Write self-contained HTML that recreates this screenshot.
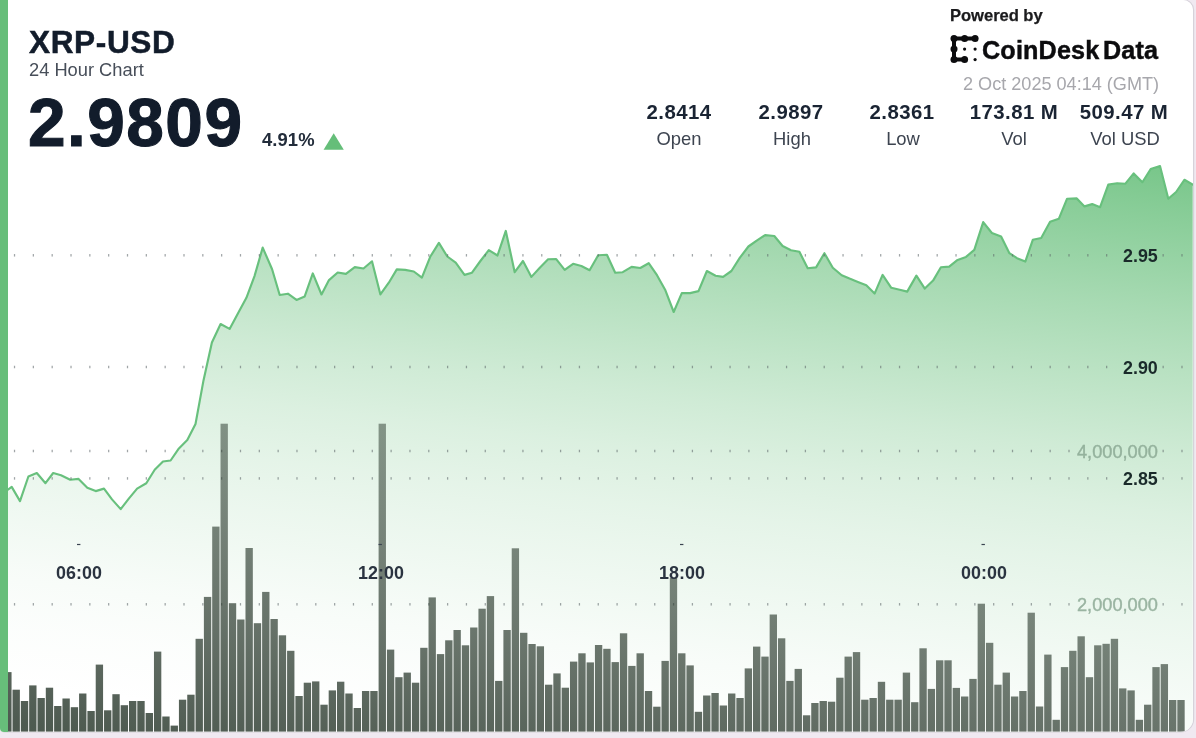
<!DOCTYPE html>
<html><head><meta charset="utf-8">
<style>
html,body{margin:0;padding:0;}
body{width:1196px;height:738px;overflow:hidden;background:#f0e9f1;font-family:"Liberation Sans",sans-serif;position:relative;}
#card{position:absolute;left:0;top:0;width:1193px;height:731.6px;background:#fff;border-radius:0 10px 13px 4px;overflow:hidden;}
#edge{position:absolute;left:0;top:0;width:1193px;height:731.6px;border-radius:0 10px 13px 4px;box-shadow:0.6px 0 0 0.6px #d6d3da;}
#gbar{position:absolute;left:0;top:0;width:7.6px;height:732px;background:#67be7a;}
.t{position:absolute;white-space:nowrap;line-height:1;color:#121c2b;will-change:transform;}
.b{font-weight:bold;}
.c{text-align:center;transform:translateX(-50%);}
svg{position:absolute;left:0;top:0;}
.g{stroke:#5c6468;stroke-opacity:.62;stroke-width:2.8;stroke-dasharray:1.2 17.63;fill:none;}
</style></head><body>
<div id="edge"></div>
<div id="card">
<svg width="1196" height="738" viewBox="0 0 1196 738">
<defs>
<linearGradient id="ag" gradientUnits="userSpaceOnUse" x1="600" y1="80" x2="518.3" y2="750">
<stop offset="0.0000" stop-color="#65be79" stop-opacity="0.915"/>
<stop offset="0.0926" stop-color="#65be79" stop-opacity="0.772"/>
<stop offset="0.1765" stop-color="#65be79" stop-opacity="0.655"/>
<stop offset="0.2353" stop-color="#65be79" stop-opacity="0.572"/>
<stop offset="0.3235" stop-color="#65be79" stop-opacity="0.462"/>
<stop offset="0.3971" stop-color="#65be79" stop-opacity="0.375"/>
<stop offset="0.4515" stop-color="#65be79" stop-opacity="0.312"/>
<stop offset="0.5000" stop-color="#65be79" stop-opacity="0.266"/>
<stop offset="0.5368" stop-color="#65be79" stop-opacity="0.230"/>
<stop offset="0.6176" stop-color="#65be79" stop-opacity="0.170"/>
<stop offset="0.6882" stop-color="#65be79" stop-opacity="0.127"/>
<stop offset="0.7647" stop-color="#65be79" stop-opacity="0.085"/>
<stop offset="0.8279" stop-color="#65be79" stop-opacity="0.050"/>
<stop offset="0.9118" stop-color="#65be79" stop-opacity="0.020"/>
<stop offset="1.0000" stop-color="#65be79" stop-opacity="0.000"/>
</linearGradient>
<linearGradient id="bg" gradientUnits="userSpaceOnUse" x1="600" y1="380" x2="546.4" y2="792.9">
<stop offset="0" stop-color="#29382c" stop-opacity="0.433"/>
<stop offset="1" stop-color="#29382c" stop-opacity="0.828"/>
</linearGradient>
</defs>
<path d="M3.4,731.6 L3.4,493.0 L11.7,486.9 L20.0,501.1 L28.4,476.5 L36.8,473.0 L45.5,483.2 L53.2,473.0 L61.0,475.2 L70.2,479.7 L78.6,478.9 L87.3,487.7 L95.7,491.1 L104.0,488.6 L112.0,499.4 L120.7,509.1 L128.8,498.6 L137.1,488.6 L146.3,483.2 L154.7,469.8 L163.0,461.5 L170.6,460.5 L178.9,448.4 L187.3,440.1 L195.5,424.0 L203.5,380.4 L211.9,342.5 L220.6,324.0 L229.6,328.9 L238.3,312.7 L246.4,297.8 L254.5,276.1 L262.7,247.6 L272.1,269.3 L279.7,295.0 L287.9,293.7 L296.5,299.9 L304.7,296.4 L312.8,273.4 L321.5,294.5 L329.0,280.1 L337.7,272.5 L345.9,273.9 L354.8,267.1 L363.5,268.5 L372.0,261.3 L380.4,294.4 L388.8,282.7 L396.8,269.4 L405.2,269.9 L413.8,271.5 L421.9,277.7 L430.2,256.8 L438.9,242.9 L447.3,256.5 L455.7,262.7 L464.5,274.9 L472.0,272.7 L480.4,261.0 L488.8,250.1 L497.5,255.5 L505.8,230.9 L514.7,272.2 L523.0,261.0 L531.4,276.9 L539.8,267.7 L548.1,259.3 L556.2,259.1 L564.7,269.9 L573.1,263.8 L581.4,266.0 L589.6,270.2 L598.2,255.2 L606.9,254.8 L615.2,272.7 L622.7,272.2 L631.6,266.9 L640.3,268.0 L648.7,263.2 L657.0,275.2 L665.4,290.3 L673.7,312.0 L681.8,293.1 L690.1,293.1 L698.5,291.1 L706.9,271.0 L715.6,275.7 L723.1,276.9 L731.4,271.0 L739.9,257.7 L748.4,246.5 L756.7,240.6 L765.1,235.1 L774.3,236.0 L782.6,246.0 L791.0,250.2 L799.4,251.8 L807.7,268.2 L816.1,267.4 L824.4,253.2 L832.8,267.7 L841.7,275.3 L849.5,278.6 L857.9,281.9 L866.3,285.3 L874.6,293.6 L882.6,274.9 L891.3,287.8 L899.7,289.8 L907.2,291.6 L916.4,275.6 L924.8,288.6 L933.1,280.6 L940.9,267.3 L949.2,266.6 L957.6,259.9 L966.0,256.9 L974.3,249.9 L983.2,222.1 L991.9,233.0 L1001.1,236.5 L1009.4,253.2 L1017.0,258.2 L1025.3,261.6 L1032.8,239.8 L1041.2,238.0 L1050.1,221.8 L1058.8,218.8 L1067.1,198.7 L1076.8,198.4 L1084.5,206.4 L1092.2,204.1 L1100.1,207.2 L1108.3,184.6 L1117.1,183.2 L1125.4,183.7 L1133.7,173.4 L1142.4,182.2 L1150.7,169.0 L1160.0,166.1 L1168.3,198.8 L1176.1,192.0 L1184.4,179.8 L1192.7,184.6 L1192.7,731.6 Z" fill="url(#ag)"/>
<path d="M3.4,493.0 L11.7,486.9 L20.0,501.1 L28.4,476.5 L36.8,473.0 L45.5,483.2 L53.2,473.0 L61.0,475.2 L70.2,479.7 L78.6,478.9 L87.3,487.7 L95.7,491.1 L104.0,488.6 L112.0,499.4 L120.7,509.1 L128.8,498.6 L137.1,488.6 L146.3,483.2 L154.7,469.8 L163.0,461.5 L170.6,460.5 L178.9,448.4 L187.3,440.1 L195.5,424.0 L203.5,380.4 L211.9,342.5 L220.6,324.0 L229.6,328.9 L238.3,312.7 L246.4,297.8 L254.5,276.1 L262.7,247.6 L272.1,269.3 L279.7,295.0 L287.9,293.7 L296.5,299.9 L304.7,296.4 L312.8,273.4 L321.5,294.5 L329.0,280.1 L337.7,272.5 L345.9,273.9 L354.8,267.1 L363.5,268.5 L372.0,261.3 L380.4,294.4 L388.8,282.7 L396.8,269.4 L405.2,269.9 L413.8,271.5 L421.9,277.7 L430.2,256.8 L438.9,242.9 L447.3,256.5 L455.7,262.7 L464.5,274.9 L472.0,272.7 L480.4,261.0 L488.8,250.1 L497.5,255.5 L505.8,230.9 L514.7,272.2 L523.0,261.0 L531.4,276.9 L539.8,267.7 L548.1,259.3 L556.2,259.1 L564.7,269.9 L573.1,263.8 L581.4,266.0 L589.6,270.2 L598.2,255.2 L606.9,254.8 L615.2,272.7 L622.7,272.2 L631.6,266.9 L640.3,268.0 L648.7,263.2 L657.0,275.2 L665.4,290.3 L673.7,312.0 L681.8,293.1 L690.1,293.1 L698.5,291.1 L706.9,271.0 L715.6,275.7 L723.1,276.9 L731.4,271.0 L739.9,257.7 L748.4,246.5 L756.7,240.6 L765.1,235.1 L774.3,236.0 L782.6,246.0 L791.0,250.2 L799.4,251.8 L807.7,268.2 L816.1,267.4 L824.4,253.2 L832.8,267.7 L841.7,275.3 L849.5,278.6 L857.9,281.9 L866.3,285.3 L874.6,293.6 L882.6,274.9 L891.3,287.8 L899.7,289.8 L907.2,291.6 L916.4,275.6 L924.8,288.6 L933.1,280.6 L940.9,267.3 L949.2,266.6 L957.6,259.9 L966.0,256.9 L974.3,249.9 L983.2,222.1 L991.9,233.0 L1001.1,236.5 L1009.4,253.2 L1017.0,258.2 L1025.3,261.6 L1032.8,239.8 L1041.2,238.0 L1050.1,221.8 L1058.8,218.8 L1067.1,198.7 L1076.8,198.4 L1084.5,206.4 L1092.2,204.1 L1100.1,207.2 L1108.3,184.6 L1117.1,183.2 L1125.4,183.7 L1133.7,173.4 L1142.4,182.2 L1150.7,169.0 L1160.0,166.1 L1168.3,198.8 L1176.1,192.0 L1184.4,179.8 L1192.7,184.6" fill="none" stroke="#68c07d" stroke-width="2.15" stroke-linejoin="round" stroke-linecap="round"/>
<g fill="#5c6468" fill-opacity="0.58"><rect x="13.90" y="254.05" width="1.25" height="2.5"/><rect x="32.73" y="254.05" width="1.25" height="2.5"/><rect x="51.56" y="254.05" width="1.25" height="2.5"/><rect x="70.39" y="254.05" width="1.25" height="2.5"/><rect x="89.22" y="254.05" width="1.25" height="2.5"/><rect x="108.05" y="254.05" width="1.25" height="2.5"/><rect x="126.88" y="254.05" width="1.25" height="2.5"/><rect x="145.71" y="254.05" width="1.25" height="2.5"/><rect x="164.54" y="254.05" width="1.25" height="2.5"/><rect x="183.37" y="254.05" width="1.25" height="2.5"/><rect x="202.20" y="254.05" width="1.25" height="2.5"/><rect x="221.03" y="254.05" width="1.25" height="2.5"/><rect x="239.86" y="254.05" width="1.25" height="2.5"/><rect x="258.69" y="254.05" width="1.25" height="2.5"/><rect x="277.52" y="254.05" width="1.25" height="2.5"/><rect x="296.35" y="254.05" width="1.25" height="2.5"/><rect x="315.18" y="254.05" width="1.25" height="2.5"/><rect x="334.01" y="254.05" width="1.25" height="2.5"/><rect x="352.84" y="254.05" width="1.25" height="2.5"/><rect x="371.67" y="254.05" width="1.25" height="2.5"/><rect x="390.50" y="254.05" width="1.25" height="2.5"/><rect x="409.33" y="254.05" width="1.25" height="2.5"/><rect x="428.16" y="254.05" width="1.25" height="2.5"/><rect x="446.99" y="254.05" width="1.25" height="2.5"/><rect x="465.82" y="254.05" width="1.25" height="2.5"/><rect x="484.65" y="254.05" width="1.25" height="2.5"/><rect x="503.48" y="254.05" width="1.25" height="2.5"/><rect x="522.31" y="254.05" width="1.25" height="2.5"/><rect x="541.14" y="254.05" width="1.25" height="2.5"/><rect x="559.97" y="254.05" width="1.25" height="2.5"/><rect x="578.80" y="254.05" width="1.25" height="2.5"/><rect x="597.63" y="254.05" width="1.25" height="2.5"/><rect x="616.46" y="254.05" width="1.25" height="2.5"/><rect x="635.29" y="254.05" width="1.25" height="2.5"/><rect x="654.12" y="254.05" width="1.25" height="2.5"/><rect x="672.95" y="254.05" width="1.25" height="2.5"/><rect x="691.78" y="254.05" width="1.25" height="2.5"/><rect x="710.61" y="254.05" width="1.25" height="2.5"/><rect x="729.44" y="254.05" width="1.25" height="2.5"/><rect x="748.27" y="254.05" width="1.25" height="2.5"/><rect x="767.10" y="254.05" width="1.25" height="2.5"/><rect x="785.93" y="254.05" width="1.25" height="2.5"/><rect x="804.76" y="254.05" width="1.25" height="2.5"/><rect x="823.59" y="254.05" width="1.25" height="2.5"/><rect x="842.42" y="254.05" width="1.25" height="2.5"/><rect x="861.25" y="254.05" width="1.25" height="2.5"/><rect x="880.08" y="254.05" width="1.25" height="2.5"/><rect x="898.91" y="254.05" width="1.25" height="2.5"/><rect x="917.74" y="254.05" width="1.25" height="2.5"/><rect x="936.57" y="254.05" width="1.25" height="2.5"/><rect x="955.40" y="254.05" width="1.25" height="2.5"/><rect x="974.23" y="254.05" width="1.25" height="2.5"/><rect x="993.06" y="254.05" width="1.25" height="2.5"/><rect x="1011.89" y="254.05" width="1.25" height="2.5"/><rect x="1030.72" y="254.05" width="1.25" height="2.5"/><rect x="1049.55" y="254.05" width="1.25" height="2.5"/><rect x="1068.38" y="254.05" width="1.25" height="2.5"/><rect x="1087.21" y="254.05" width="1.25" height="2.5"/><rect x="1106.04" y="254.05" width="1.25" height="2.5"/><rect x="1162.53" y="254.05" width="1.25" height="2.5"/><rect x="1181.36" y="254.05" width="1.25" height="2.5"/>
<rect x="13.90" y="365.75" width="1.25" height="2.5"/><rect x="32.73" y="365.75" width="1.25" height="2.5"/><rect x="51.56" y="365.75" width="1.25" height="2.5"/><rect x="70.39" y="365.75" width="1.25" height="2.5"/><rect x="89.22" y="365.75" width="1.25" height="2.5"/><rect x="108.05" y="365.75" width="1.25" height="2.5"/><rect x="126.88" y="365.75" width="1.25" height="2.5"/><rect x="145.71" y="365.75" width="1.25" height="2.5"/><rect x="164.54" y="365.75" width="1.25" height="2.5"/><rect x="183.37" y="365.75" width="1.25" height="2.5"/><rect x="202.20" y="365.75" width="1.25" height="2.5"/><rect x="221.03" y="365.75" width="1.25" height="2.5"/><rect x="239.86" y="365.75" width="1.25" height="2.5"/><rect x="258.69" y="365.75" width="1.25" height="2.5"/><rect x="277.52" y="365.75" width="1.25" height="2.5"/><rect x="296.35" y="365.75" width="1.25" height="2.5"/><rect x="315.18" y="365.75" width="1.25" height="2.5"/><rect x="334.01" y="365.75" width="1.25" height="2.5"/><rect x="352.84" y="365.75" width="1.25" height="2.5"/><rect x="371.67" y="365.75" width="1.25" height="2.5"/><rect x="390.50" y="365.75" width="1.25" height="2.5"/><rect x="409.33" y="365.75" width="1.25" height="2.5"/><rect x="428.16" y="365.75" width="1.25" height="2.5"/><rect x="446.99" y="365.75" width="1.25" height="2.5"/><rect x="465.82" y="365.75" width="1.25" height="2.5"/><rect x="484.65" y="365.75" width="1.25" height="2.5"/><rect x="503.48" y="365.75" width="1.25" height="2.5"/><rect x="522.31" y="365.75" width="1.25" height="2.5"/><rect x="541.14" y="365.75" width="1.25" height="2.5"/><rect x="559.97" y="365.75" width="1.25" height="2.5"/><rect x="578.80" y="365.75" width="1.25" height="2.5"/><rect x="597.63" y="365.75" width="1.25" height="2.5"/><rect x="616.46" y="365.75" width="1.25" height="2.5"/><rect x="635.29" y="365.75" width="1.25" height="2.5"/><rect x="654.12" y="365.75" width="1.25" height="2.5"/><rect x="672.95" y="365.75" width="1.25" height="2.5"/><rect x="691.78" y="365.75" width="1.25" height="2.5"/><rect x="710.61" y="365.75" width="1.25" height="2.5"/><rect x="729.44" y="365.75" width="1.25" height="2.5"/><rect x="748.27" y="365.75" width="1.25" height="2.5"/><rect x="767.10" y="365.75" width="1.25" height="2.5"/><rect x="785.93" y="365.75" width="1.25" height="2.5"/><rect x="804.76" y="365.75" width="1.25" height="2.5"/><rect x="823.59" y="365.75" width="1.25" height="2.5"/><rect x="842.42" y="365.75" width="1.25" height="2.5"/><rect x="861.25" y="365.75" width="1.25" height="2.5"/><rect x="880.08" y="365.75" width="1.25" height="2.5"/><rect x="898.91" y="365.75" width="1.25" height="2.5"/><rect x="917.74" y="365.75" width="1.25" height="2.5"/><rect x="936.57" y="365.75" width="1.25" height="2.5"/><rect x="955.40" y="365.75" width="1.25" height="2.5"/><rect x="974.23" y="365.75" width="1.25" height="2.5"/><rect x="993.06" y="365.75" width="1.25" height="2.5"/><rect x="1011.89" y="365.75" width="1.25" height="2.5"/><rect x="1030.72" y="365.75" width="1.25" height="2.5"/><rect x="1049.55" y="365.75" width="1.25" height="2.5"/><rect x="1068.38" y="365.75" width="1.25" height="2.5"/><rect x="1087.21" y="365.75" width="1.25" height="2.5"/><rect x="1106.04" y="365.75" width="1.25" height="2.5"/><rect x="1162.53" y="365.75" width="1.25" height="2.5"/><rect x="1181.36" y="365.75" width="1.25" height="2.5"/>
<rect x="13.90" y="477.15" width="1.25" height="2.5"/><rect x="32.73" y="477.15" width="1.25" height="2.5"/><rect x="51.56" y="477.15" width="1.25" height="2.5"/><rect x="70.39" y="477.15" width="1.25" height="2.5"/><rect x="89.22" y="477.15" width="1.25" height="2.5"/><rect x="108.05" y="477.15" width="1.25" height="2.5"/><rect x="126.88" y="477.15" width="1.25" height="2.5"/><rect x="145.71" y="477.15" width="1.25" height="2.5"/><rect x="164.54" y="477.15" width="1.25" height="2.5"/><rect x="183.37" y="477.15" width="1.25" height="2.5"/><rect x="202.20" y="477.15" width="1.25" height="2.5"/><rect x="221.03" y="477.15" width="1.25" height="2.5"/><rect x="239.86" y="477.15" width="1.25" height="2.5"/><rect x="258.69" y="477.15" width="1.25" height="2.5"/><rect x="277.52" y="477.15" width="1.25" height="2.5"/><rect x="296.35" y="477.15" width="1.25" height="2.5"/><rect x="315.18" y="477.15" width="1.25" height="2.5"/><rect x="334.01" y="477.15" width="1.25" height="2.5"/><rect x="352.84" y="477.15" width="1.25" height="2.5"/><rect x="371.67" y="477.15" width="1.25" height="2.5"/><rect x="390.50" y="477.15" width="1.25" height="2.5"/><rect x="409.33" y="477.15" width="1.25" height="2.5"/><rect x="428.16" y="477.15" width="1.25" height="2.5"/><rect x="446.99" y="477.15" width="1.25" height="2.5"/><rect x="465.82" y="477.15" width="1.25" height="2.5"/><rect x="484.65" y="477.15" width="1.25" height="2.5"/><rect x="503.48" y="477.15" width="1.25" height="2.5"/><rect x="522.31" y="477.15" width="1.25" height="2.5"/><rect x="541.14" y="477.15" width="1.25" height="2.5"/><rect x="559.97" y="477.15" width="1.25" height="2.5"/><rect x="578.80" y="477.15" width="1.25" height="2.5"/><rect x="597.63" y="477.15" width="1.25" height="2.5"/><rect x="616.46" y="477.15" width="1.25" height="2.5"/><rect x="635.29" y="477.15" width="1.25" height="2.5"/><rect x="654.12" y="477.15" width="1.25" height="2.5"/><rect x="672.95" y="477.15" width="1.25" height="2.5"/><rect x="691.78" y="477.15" width="1.25" height="2.5"/><rect x="710.61" y="477.15" width="1.25" height="2.5"/><rect x="729.44" y="477.15" width="1.25" height="2.5"/><rect x="748.27" y="477.15" width="1.25" height="2.5"/><rect x="767.10" y="477.15" width="1.25" height="2.5"/><rect x="785.93" y="477.15" width="1.25" height="2.5"/><rect x="804.76" y="477.15" width="1.25" height="2.5"/><rect x="823.59" y="477.15" width="1.25" height="2.5"/><rect x="842.42" y="477.15" width="1.25" height="2.5"/><rect x="861.25" y="477.15" width="1.25" height="2.5"/><rect x="880.08" y="477.15" width="1.25" height="2.5"/><rect x="898.91" y="477.15" width="1.25" height="2.5"/><rect x="917.74" y="477.15" width="1.25" height="2.5"/><rect x="936.57" y="477.15" width="1.25" height="2.5"/><rect x="955.40" y="477.15" width="1.25" height="2.5"/><rect x="974.23" y="477.15" width="1.25" height="2.5"/><rect x="993.06" y="477.15" width="1.25" height="2.5"/><rect x="1011.89" y="477.15" width="1.25" height="2.5"/><rect x="1030.72" y="477.15" width="1.25" height="2.5"/><rect x="1049.55" y="477.15" width="1.25" height="2.5"/><rect x="1068.38" y="477.15" width="1.25" height="2.5"/><rect x="1087.21" y="477.15" width="1.25" height="2.5"/><rect x="1106.04" y="477.15" width="1.25" height="2.5"/><rect x="1162.53" y="477.15" width="1.25" height="2.5"/><rect x="1181.36" y="477.15" width="1.25" height="2.5"/>
<rect x="13.90" y="449.75" width="1.25" height="2.5"/><rect x="32.73" y="449.75" width="1.25" height="2.5"/><rect x="51.56" y="449.75" width="1.25" height="2.5"/><rect x="70.39" y="449.75" width="1.25" height="2.5"/><rect x="89.22" y="449.75" width="1.25" height="2.5"/><rect x="108.05" y="449.75" width="1.25" height="2.5"/><rect x="126.88" y="449.75" width="1.25" height="2.5"/><rect x="145.71" y="449.75" width="1.25" height="2.5"/><rect x="164.54" y="449.75" width="1.25" height="2.5"/><rect x="183.37" y="449.75" width="1.25" height="2.5"/><rect x="202.20" y="449.75" width="1.25" height="2.5"/><rect x="221.03" y="449.75" width="1.25" height="2.5"/><rect x="239.86" y="449.75" width="1.25" height="2.5"/><rect x="258.69" y="449.75" width="1.25" height="2.5"/><rect x="277.52" y="449.75" width="1.25" height="2.5"/><rect x="296.35" y="449.75" width="1.25" height="2.5"/><rect x="315.18" y="449.75" width="1.25" height="2.5"/><rect x="334.01" y="449.75" width="1.25" height="2.5"/><rect x="352.84" y="449.75" width="1.25" height="2.5"/><rect x="371.67" y="449.75" width="1.25" height="2.5"/><rect x="390.50" y="449.75" width="1.25" height="2.5"/><rect x="409.33" y="449.75" width="1.25" height="2.5"/><rect x="428.16" y="449.75" width="1.25" height="2.5"/><rect x="446.99" y="449.75" width="1.25" height="2.5"/><rect x="465.82" y="449.75" width="1.25" height="2.5"/><rect x="484.65" y="449.75" width="1.25" height="2.5"/><rect x="503.48" y="449.75" width="1.25" height="2.5"/><rect x="522.31" y="449.75" width="1.25" height="2.5"/><rect x="541.14" y="449.75" width="1.25" height="2.5"/><rect x="559.97" y="449.75" width="1.25" height="2.5"/><rect x="578.80" y="449.75" width="1.25" height="2.5"/><rect x="597.63" y="449.75" width="1.25" height="2.5"/><rect x="616.46" y="449.75" width="1.25" height="2.5"/><rect x="635.29" y="449.75" width="1.25" height="2.5"/><rect x="654.12" y="449.75" width="1.25" height="2.5"/><rect x="672.95" y="449.75" width="1.25" height="2.5"/><rect x="691.78" y="449.75" width="1.25" height="2.5"/><rect x="710.61" y="449.75" width="1.25" height="2.5"/><rect x="729.44" y="449.75" width="1.25" height="2.5"/><rect x="748.27" y="449.75" width="1.25" height="2.5"/><rect x="767.10" y="449.75" width="1.25" height="2.5"/><rect x="785.93" y="449.75" width="1.25" height="2.5"/><rect x="804.76" y="449.75" width="1.25" height="2.5"/><rect x="823.59" y="449.75" width="1.25" height="2.5"/><rect x="842.42" y="449.75" width="1.25" height="2.5"/><rect x="861.25" y="449.75" width="1.25" height="2.5"/><rect x="880.08" y="449.75" width="1.25" height="2.5"/><rect x="898.91" y="449.75" width="1.25" height="2.5"/><rect x="917.74" y="449.75" width="1.25" height="2.5"/><rect x="936.57" y="449.75" width="1.25" height="2.5"/><rect x="955.40" y="449.75" width="1.25" height="2.5"/><rect x="974.23" y="449.75" width="1.25" height="2.5"/><rect x="993.06" y="449.75" width="1.25" height="2.5"/><rect x="1011.89" y="449.75" width="1.25" height="2.5"/><rect x="1030.72" y="449.75" width="1.25" height="2.5"/><rect x="1049.55" y="449.75" width="1.25" height="2.5"/><rect x="1068.38" y="449.75" width="1.25" height="2.5"/><rect x="1162.53" y="449.75" width="1.25" height="2.5"/><rect x="1181.36" y="449.75" width="1.25" height="2.5"/>
<rect x="13.90" y="603.05" width="1.25" height="2.5"/><rect x="32.73" y="603.05" width="1.25" height="2.5"/><rect x="51.56" y="603.05" width="1.25" height="2.5"/><rect x="70.39" y="603.05" width="1.25" height="2.5"/><rect x="89.22" y="603.05" width="1.25" height="2.5"/><rect x="108.05" y="603.05" width="1.25" height="2.5"/><rect x="126.88" y="603.05" width="1.25" height="2.5"/><rect x="145.71" y="603.05" width="1.25" height="2.5"/><rect x="164.54" y="603.05" width="1.25" height="2.5"/><rect x="183.37" y="603.05" width="1.25" height="2.5"/><rect x="202.20" y="603.05" width="1.25" height="2.5"/><rect x="221.03" y="603.05" width="1.25" height="2.5"/><rect x="239.86" y="603.05" width="1.25" height="2.5"/><rect x="258.69" y="603.05" width="1.25" height="2.5"/><rect x="277.52" y="603.05" width="1.25" height="2.5"/><rect x="296.35" y="603.05" width="1.25" height="2.5"/><rect x="315.18" y="603.05" width="1.25" height="2.5"/><rect x="334.01" y="603.05" width="1.25" height="2.5"/><rect x="352.84" y="603.05" width="1.25" height="2.5"/><rect x="371.67" y="603.05" width="1.25" height="2.5"/><rect x="390.50" y="603.05" width="1.25" height="2.5"/><rect x="409.33" y="603.05" width="1.25" height="2.5"/><rect x="428.16" y="603.05" width="1.25" height="2.5"/><rect x="446.99" y="603.05" width="1.25" height="2.5"/><rect x="465.82" y="603.05" width="1.25" height="2.5"/><rect x="484.65" y="603.05" width="1.25" height="2.5"/><rect x="503.48" y="603.05" width="1.25" height="2.5"/><rect x="522.31" y="603.05" width="1.25" height="2.5"/><rect x="541.14" y="603.05" width="1.25" height="2.5"/><rect x="559.97" y="603.05" width="1.25" height="2.5"/><rect x="578.80" y="603.05" width="1.25" height="2.5"/><rect x="597.63" y="603.05" width="1.25" height="2.5"/><rect x="616.46" y="603.05" width="1.25" height="2.5"/><rect x="635.29" y="603.05" width="1.25" height="2.5"/><rect x="654.12" y="603.05" width="1.25" height="2.5"/><rect x="672.95" y="603.05" width="1.25" height="2.5"/><rect x="691.78" y="603.05" width="1.25" height="2.5"/><rect x="710.61" y="603.05" width="1.25" height="2.5"/><rect x="729.44" y="603.05" width="1.25" height="2.5"/><rect x="748.27" y="603.05" width="1.25" height="2.5"/><rect x="767.10" y="603.05" width="1.25" height="2.5"/><rect x="785.93" y="603.05" width="1.25" height="2.5"/><rect x="804.76" y="603.05" width="1.25" height="2.5"/><rect x="823.59" y="603.05" width="1.25" height="2.5"/><rect x="842.42" y="603.05" width="1.25" height="2.5"/><rect x="861.25" y="603.05" width="1.25" height="2.5"/><rect x="880.08" y="603.05" width="1.25" height="2.5"/><rect x="898.91" y="603.05" width="1.25" height="2.5"/><rect x="917.74" y="603.05" width="1.25" height="2.5"/><rect x="936.57" y="603.05" width="1.25" height="2.5"/><rect x="955.40" y="603.05" width="1.25" height="2.5"/><rect x="974.23" y="603.05" width="1.25" height="2.5"/><rect x="993.06" y="603.05" width="1.25" height="2.5"/><rect x="1011.89" y="603.05" width="1.25" height="2.5"/><rect x="1030.72" y="603.05" width="1.25" height="2.5"/><rect x="1049.55" y="603.05" width="1.25" height="2.5"/><rect x="1068.38" y="603.05" width="1.25" height="2.5"/><rect x="1162.53" y="603.05" width="1.25" height="2.5"/><rect x="1181.36" y="603.05" width="1.25" height="2.5"/></g>
<g fill="url(#bg)">
<rect x="4.20" y="672.1" width="7.35" height="59.5"/>
<rect x="12.52" y="689.7" width="7.35" height="41.9"/>
<rect x="20.84" y="701.0" width="7.35" height="30.6"/>
<rect x="29.16" y="685.4" width="7.35" height="46.2"/>
<rect x="37.48" y="698.0" width="7.35" height="33.6"/>
<rect x="45.80" y="687.7" width="7.35" height="43.9"/>
<rect x="54.12" y="706.0" width="7.35" height="25.6"/>
<rect x="62.44" y="698.5" width="7.35" height="33.1"/>
<rect x="70.76" y="707.2" width="7.35" height="24.4"/>
<rect x="79.08" y="693.5" width="7.35" height="38.1"/>
<rect x="87.40" y="711.0" width="7.35" height="20.6"/>
<rect x="95.72" y="664.6" width="7.35" height="67.0"/>
<rect x="104.04" y="710.3" width="7.35" height="21.3"/>
<rect x="112.36" y="694.2" width="7.35" height="37.4"/>
<rect x="120.68" y="705.2" width="7.35" height="26.4"/>
<rect x="129.00" y="701.0" width="7.35" height="30.6"/>
<rect x="137.32" y="701.0" width="7.35" height="30.6"/>
<rect x="145.64" y="713.0" width="7.35" height="18.6"/>
<rect x="153.96" y="651.6" width="7.35" height="80.0"/>
<rect x="162.28" y="716.5" width="7.35" height="15.1"/>
<rect x="170.60" y="725.6" width="7.35" height="6.0"/>
<rect x="178.92" y="699.7" width="7.35" height="31.9"/>
<rect x="187.24" y="694.7" width="7.35" height="36.9"/>
<rect x="195.56" y="638.8" width="7.35" height="92.8"/>
<rect x="203.88" y="596.9" width="7.35" height="134.7"/>
<rect x="212.20" y="526.6" width="7.35" height="205.0"/>
<rect x="220.52" y="423.7" width="7.35" height="307.9"/>
<rect x="228.84" y="603.2" width="7.35" height="128.4"/>
<rect x="237.16" y="619.5" width="7.35" height="112.1"/>
<rect x="245.48" y="548.0" width="7.35" height="183.6"/>
<rect x="253.80" y="623.2" width="7.35" height="108.4"/>
<rect x="262.12" y="591.9" width="7.35" height="139.7"/>
<rect x="270.44" y="619.0" width="7.35" height="112.6"/>
<rect x="278.76" y="635.3" width="7.35" height="96.3"/>
<rect x="287.08" y="650.8" width="7.35" height="80.8"/>
<rect x="295.40" y="696.0" width="7.35" height="35.6"/>
<rect x="303.72" y="682.7" width="7.35" height="48.9"/>
<rect x="312.04" y="681.4" width="7.35" height="50.2"/>
<rect x="320.36" y="704.7" width="7.35" height="26.9"/>
<rect x="328.68" y="690.4" width="7.35" height="41.2"/>
<rect x="337.00" y="681.7" width="7.35" height="49.9"/>
<rect x="345.32" y="693.5" width="7.35" height="38.1"/>
<rect x="353.64" y="708.0" width="7.35" height="23.6"/>
<rect x="361.96" y="691.0" width="7.35" height="40.6"/>
<rect x="370.28" y="691.0" width="7.35" height="40.6"/>
<rect x="378.60" y="423.7" width="7.35" height="307.9"/>
<rect x="386.92" y="649.6" width="7.35" height="82.0"/>
<rect x="395.24" y="677.2" width="7.35" height="54.4"/>
<rect x="403.56" y="672.6" width="7.35" height="59.0"/>
<rect x="411.88" y="682.7" width="7.35" height="48.9"/>
<rect x="420.20" y="647.8" width="7.35" height="83.8"/>
<rect x="428.52" y="597.4" width="7.35" height="134.2"/>
<rect x="436.84" y="654.1" width="7.35" height="77.5"/>
<rect x="445.16" y="640.3" width="7.35" height="91.3"/>
<rect x="453.48" y="630.0" width="7.35" height="101.6"/>
<rect x="461.80" y="645.3" width="7.35" height="86.3"/>
<rect x="470.12" y="627.5" width="7.35" height="104.1"/>
<rect x="478.44" y="608.7" width="7.35" height="122.9"/>
<rect x="486.76" y="596.1" width="7.35" height="135.5"/>
<rect x="495.08" y="680.9" width="7.35" height="50.7"/>
<rect x="503.40" y="630.0" width="7.35" height="101.6"/>
<rect x="511.72" y="548.3" width="7.35" height="183.3"/>
<rect x="520.04" y="632.8" width="7.35" height="98.8"/>
<rect x="528.36" y="644.0" width="7.35" height="87.6"/>
<rect x="536.68" y="646.3" width="7.35" height="85.3"/>
<rect x="545.00" y="684.7" width="7.35" height="46.9"/>
<rect x="553.32" y="673.4" width="7.35" height="58.2"/>
<rect x="561.64" y="687.7" width="7.35" height="43.9"/>
<rect x="569.96" y="661.6" width="7.35" height="70.0"/>
<rect x="578.28" y="653.3" width="7.35" height="78.3"/>
<rect x="586.60" y="662.4" width="7.35" height="69.2"/>
<rect x="594.92" y="645.0" width="7.35" height="86.6"/>
<rect x="603.24" y="648.8" width="7.35" height="82.8"/>
<rect x="611.56" y="662.1" width="7.35" height="69.5"/>
<rect x="619.88" y="633.3" width="7.35" height="98.3"/>
<rect x="628.20" y="665.9" width="7.35" height="65.7"/>
<rect x="636.52" y="653.3" width="7.35" height="78.3"/>
<rect x="644.84" y="691.0" width="7.35" height="40.6"/>
<rect x="653.16" y="706.7" width="7.35" height="24.9"/>
<rect x="661.48" y="660.9" width="7.35" height="70.7"/>
<rect x="669.80" y="578.0" width="7.35" height="153.6"/>
<rect x="678.12" y="653.3" width="7.35" height="78.3"/>
<rect x="686.44" y="665.4" width="7.35" height="66.2"/>
<rect x="694.76" y="711.8" width="7.35" height="19.8"/>
<rect x="703.08" y="695.5" width="7.35" height="36.1"/>
<rect x="711.40" y="693.0" width="7.35" height="38.6"/>
<rect x="719.72" y="705.5" width="7.35" height="26.1"/>
<rect x="728.04" y="693.5" width="7.35" height="38.1"/>
<rect x="736.36" y="698.0" width="7.35" height="33.6"/>
<rect x="744.68" y="668.4" width="7.35" height="63.2"/>
<rect x="753.00" y="646.6" width="7.35" height="85.0"/>
<rect x="761.32" y="656.6" width="7.35" height="75.0"/>
<rect x="769.64" y="614.5" width="7.35" height="117.1"/>
<rect x="777.96" y="638.3" width="7.35" height="93.3"/>
<rect x="786.28" y="680.9" width="7.35" height="50.7"/>
<rect x="794.60" y="668.9" width="7.35" height="62.7"/>
<rect x="802.92" y="715.3" width="7.35" height="16.3"/>
<rect x="811.24" y="703.0" width="7.35" height="28.6"/>
<rect x="819.56" y="701.0" width="7.35" height="30.6"/>
<rect x="827.88" y="701.7" width="7.35" height="29.9"/>
<rect x="836.20" y="677.7" width="7.35" height="53.9"/>
<rect x="844.52" y="656.6" width="7.35" height="75.0"/>
<rect x="852.84" y="652.1" width="7.35" height="79.5"/>
<rect x="861.16" y="699.7" width="7.35" height="31.9"/>
<rect x="869.48" y="698.0" width="7.35" height="33.6"/>
<rect x="877.80" y="681.8" width="7.35" height="49.8"/>
<rect x="886.12" y="699.7" width="7.35" height="31.9"/>
<rect x="894.44" y="699.7" width="7.35" height="31.9"/>
<rect x="902.76" y="672.6" width="7.35" height="59.0"/>
<rect x="911.08" y="702.2" width="7.35" height="29.4"/>
<rect x="919.40" y="648.3" width="7.35" height="83.3"/>
<rect x="927.72" y="688.9" width="7.35" height="42.7"/>
<rect x="936.04" y="660.3" width="7.35" height="71.3"/>
<rect x="944.36" y="660.3" width="7.35" height="71.3"/>
<rect x="952.68" y="687.9" width="7.35" height="43.7"/>
<rect x="961.00" y="696.5" width="7.35" height="35.1"/>
<rect x="969.32" y="678.9" width="7.35" height="52.7"/>
<rect x="977.64" y="603.7" width="7.35" height="127.9"/>
<rect x="985.96" y="642.8" width="7.35" height="88.8"/>
<rect x="994.28" y="684.7" width="7.35" height="46.9"/>
<rect x="1002.60" y="672.6" width="7.35" height="59.0"/>
<rect x="1010.92" y="696.5" width="7.35" height="35.1"/>
<rect x="1019.24" y="691.0" width="7.35" height="40.6"/>
<rect x="1027.56" y="612.7" width="7.35" height="118.9"/>
<rect x="1035.88" y="706.5" width="7.35" height="25.1"/>
<rect x="1044.20" y="654.6" width="7.35" height="77.0"/>
<rect x="1052.52" y="719.8" width="7.35" height="11.8"/>
<rect x="1060.84" y="667.1" width="7.35" height="64.5"/>
<rect x="1069.16" y="650.8" width="7.35" height="80.8"/>
<rect x="1077.48" y="636.3" width="7.35" height="95.3"/>
<rect x="1085.80" y="677.2" width="7.35" height="54.4"/>
<rect x="1094.12" y="645.3" width="7.35" height="86.3"/>
<rect x="1102.44" y="643.8" width="7.35" height="87.8"/>
<rect x="1110.76" y="638.8" width="7.35" height="92.8"/>
<rect x="1119.08" y="688.4" width="7.35" height="43.2"/>
<rect x="1127.40" y="690.4" width="7.35" height="41.2"/>
<rect x="1135.72" y="719.8" width="7.35" height="11.8"/>
<rect x="1144.04" y="704.7" width="7.35" height="26.9"/>
<rect x="1152.36" y="667.1" width="7.35" height="64.5"/>
<rect x="1160.68" y="664.1" width="7.35" height="67.5"/>
<rect x="1169.00" y="700.0" width="7.35" height="31.6"/>
<rect x="1177.32" y="700.0" width="7.35" height="31.6"/>
</g>
<rect x="77.0" y="543.9" width="3.4" height="1.2" fill="#3a4350"/>
<rect x="378.5" y="543.9" width="3.4" height="1.2" fill="#3a4350"/>
<rect x="680.0" y="543.9" width="3.4" height="1.2" fill="#3a4350"/>
<rect x="981.5" y="543.9" width="3.4" height="1.2" fill="#3a4350"/>
</svg>
<div id="gbar"></div>

<div class="t b" style="left:29.2px;top:26.8px;font-size:31.6px;letter-spacing:0.6px;-webkit-text-stroke:0.5px #121c2b;">XRP-USD</div>
<div class="t" style="left:28.6px;top:61.3px;font-size:18.3px;color:#474e59;">24 Hour Chart</div>
<div class="t b" style="left:28.4px;top:88.6px;font-size:67.6px;letter-spacing:1.45px;-webkit-text-stroke:1.1px #121c2b;">2.9809</div>
<div class="t b" style="left:262px;top:130.8px;font-size:18.4px;letter-spacing:0.1px;color:#232d3b;">4.91%</div>
<svg width="1196" height="738" style="pointer-events:none"><polygon points="323.6,149.8 343.8,149.8 333.7,133.2" fill="#65be79"/></svg>

<div class="t b" style="left:950.1px;top:8px;font-size:16.6px;color:#1b1b1d;letter-spacing:-0.05px;-webkit-text-stroke:0.25px #1b1b1d;">Powered by</div>
<svg width="1196" height="738">
<g stroke="#0c0c0e" stroke-width="4" stroke-linecap="round" fill="none">
<path d="M975.1,38.5 L954,38.5 L954,59.6 L964.6,59.6"/>
</g>
<g fill="#0c0c0e">
<circle cx="954" cy="38.5" r="3.5"/><circle cx="964.6" cy="38.5" r="3.5"/><circle cx="975.1" cy="38.5" r="3.5"/>
<circle cx="954" cy="49.1" r="3.5"/><circle cx="954" cy="59.6" r="3.5"/><circle cx="964.6" cy="59.6" r="3.5"/>
<circle cx="964.6" cy="49.1" r="1.6"/><circle cx="975.1" cy="49.1" r="1.6"/><circle cx="975.1" cy="59.6" r="1.6"/>
</g>
</svg>
<div class="t b" style="left:982.4px;top:38px;font-size:25.2px;color:#0c0c0e;letter-spacing:0.15px;word-spacing:-3.6px;-webkit-text-stroke:0.45px #0c0c0e;">CoinDesk Data</div>
<div class="t" style="left:963.3px;top:74.5px;font-size:18.1px;color:#a7a7ac;">2 Oct 2025 04:14 (GMT)</div>

<div class="t b c" style="left:679.4px;top:102.3px;font-size:20.4px;letter-spacing:0.42px;color:#1a2433;">2.8414</div>
<div class="t b c" style="left:790.7px;top:102.3px;font-size:20.4px;letter-spacing:0.42px;color:#1a2433;">2.9897</div>
<div class="t b c" style="left:902px;top:102.3px;font-size:20.4px;letter-spacing:0.42px;color:#1a2433;">2.8361</div>
<div class="t b c" style="left:1013.8px;top:102.3px;font-size:20.4px;letter-spacing:0.42px;color:#1a2433;">173.81 M</div>
<div class="t b c" style="left:1124.4px;top:102.3px;font-size:20.4px;letter-spacing:0.42px;color:#1a2433;">509.47 M</div>
<div class="t c" style="left:679.4px;top:129.6px;font-size:18.4px;color:#3d4450;">Open</div>
<div class="t c" style="left:792px;top:129.6px;font-size:18.4px;color:#3d4450;">High</div>
<div class="t c" style="left:903px;top:129.6px;font-size:18.4px;color:#3d4450;">Low</div>
<div class="t c" style="left:1014px;top:129.6px;font-size:18.4px;color:#3d4450;">Vol</div>
<div class="t c" style="left:1124.6px;top:129.6px;font-size:18.4px;color:#3d4450;">Vol USD</div>

<div class="t b c" style="left:79.2px;top:565.3px;font-size:17.9px;color:#2a3340;">06:00</div>
<div class="t b c" style="left:380.6px;top:565.3px;font-size:17.9px;color:#2a3340;">12:00</div>
<div class="t b c" style="left:682.1px;top:565.3px;font-size:17.9px;color:#2a3340;">18:00</div>
<div class="t b c" style="left:983.6px;top:565.3px;font-size:17.9px;color:#2a3340;">00:00</div>

<div class="t b" style="right:35.4px;top:248.4px;font-size:17.9px;color:#1a2a2a;">2.95</div>
<div class="t b" style="right:35.4px;top:360.1px;font-size:17.9px;color:#1a2a2a;">2.90</div>
<div class="t b" style="right:35.4px;top:471.4px;font-size:17.9px;color:#1a2a2a;">2.85</div>
<div class="t" style="right:35.4px;top:442.5px;font-size:18.2px;color:#86a48f;opacity:.8;-webkit-text-stroke:0.4px #86a48f;">4,000,000</div>
<div class="t" style="right:35.4px;top:595.8px;font-size:18.2px;color:#86a48f;opacity:.8;-webkit-text-stroke:0.4px #86a48f;">2,000,000</div>
</div>
</body></html>
